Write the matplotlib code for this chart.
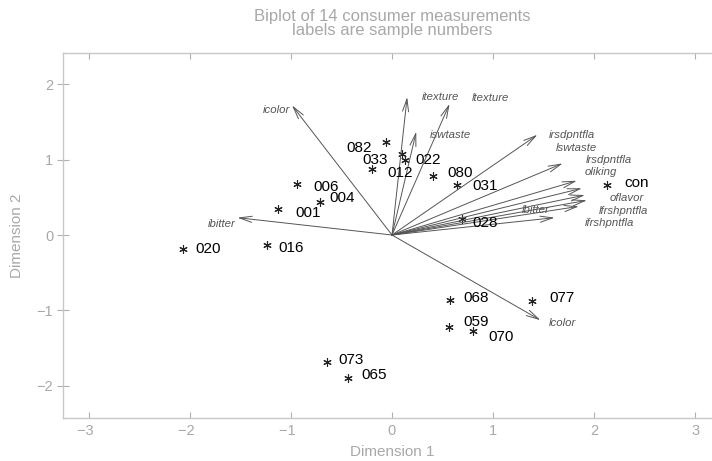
import matplotlib
matplotlib.use("Agg")
import matplotlib.pyplot as plt
import numpy as np

# sample scores (dimension 1, dimension 2)
samples = ["001", "004", "006", "012", "016", "020", "022", "028", "031", "033",
           "059", "065", "068", "070", "073", "077", "080", "082", "con"]
samp_x = [-1.13, -0.71, -0.94, -0.20, -1.24, -2.07, 0.13, 0.69, 0.64, 0.10,
          0.56, -0.44, 0.57, 0.80, -0.64, 1.39, 0.41, -0.06, 2.13]
samp_y = [0.34, 0.44, 0.68, 0.88, -0.13, -0.19, 0.99, 0.21, 0.66, 1.07,
          -1.22, -1.90, -0.86, -1.27, -1.68, -0.88, 0.78, 1.23, 0.66]

# loadings of the 14 consumer measurements
measures = ["icolor", "ibitter", "itexture", "ltexture", "iswtaste", "irsdpntfla",
            "lswtaste", "lrsdpntfla", "oliking", "oflavor", "lfrshpntfla",
            "ifrshpntfla", "lbitter", "lcolor"]
load_x = [-0.99, -1.53, 0.15, 0.57, 0.24, 1.44, 1.69, 1.83, 1.88, 1.91, 1.93, 1.85, 1.61, 1.47]
load_y = [1.72, 0.23, 1.83, 1.74, 1.37, 1.33, 0.95, 0.72, 0.62, 0.53, 0.46, 0.38, 0.23, -1.13]

xticks = [-3, -2, -1, 0, 1, 2, 3]
yticks = [-2, -1, 0, 1, 2]

# label placement (pixels from the star / arrow tip)
samp_off = {"001": (18, -4), "004": (9, 4), "006": (16, -3), "012": (16, -4),
            "016": (12, -3), "020": (12, 0), "022": (10, 0), "028": (11, -4),
            "031": (16, -1), "033": (-14, -6), "059": (15, 5), "065": (14, 3),
            "068": (14, 2), "070": (16, -6), "073": (11, 2), "077": (17, 3),
            "080": (14, 3), "082": (-14, -6), "con": (17, 2.5)}
load_off = {"icolor": (-2, -5), "ibitter": (-2, -6), "itexture": (15, 0),
            "ltexture": (22, 6), "iswtaste": (14, -3), "irsdpntfla": (11, 0),
            "lswtaste": (-7, 15), "lrsdpntfla": (9, 21), "oliking": (3, 16),
            "oflavor": (25, -3), "lfrshpntfla": (12, -11), "ifrshpntfla": (6, -17),
            "lbitter": (-33, 8), "lcolor": (8, -3)}

grey = "#a8a8a8"
plt.rcParams["font.family"] = ["Liberation Sans", "DejaVu Sans"]


def tick_text(v):
    # minus hangs to the left so the digit sits on the tick
    return "\u2212%d\u2007" % -v if v < 0 else "%d" % v


fig = plt.figure(figsize=(7.12, 4.61), dpi=100)
ax = fig.add_axes([63 / 712, 43 / 461, 658 / 712, 365 / 461])
ax.set_xlim(-3.257, 3.257)
ax.set_ylim(-2.427, 2.414)

for s in ax.spines.values():
    s.set_color("#c8c8c8")
    s.set_linewidth(1.0)

ax.set_xticks(xticks)
ax.set_xticklabels([tick_text(v) for v in xticks])
ax.set_yticks(yticks)
ax.set_yticklabels(["\u2212%d" % -v if v < 0 else "%d" % v for v in yticks])
ax.tick_params(axis="x", direction="in", length=4, width=0.8, color="#b0b0b0",
               labelcolor=grey, labelsize=10.5, pad=4, top=True)
ax.tick_params(axis="y", direction="inout", length=8, width=0.8, color="#b0b0b0",
               labelcolor=grey, labelsize=10.5, pad=3)

ax.set_xlabel("Dimension 1", color=grey, fontsize=11, labelpad=5)
ax.set_ylabel("Dimension 2", color=grey, fontsize=11, labelpad=9)
fig.text(392 / 712, 1 - 23.5 / 461,
         "Biplot of 14 consumer measurements\nlabels are sample numbers",
         ha="center", va="center", multialignment="center", linespacing=0.9,
         color=grey, fontsize=12)

# loading arrows
for name, lx, ly in zip(measures, load_x, load_y):
    ax.annotate("", xy=(lx, ly), xytext=(0, 0),
                arrowprops=dict(arrowstyle="->,head_length=0.9,head_width=0.22",
                                color="#555555", lw=0.7, shrinkA=0, shrinkB=0))
    dx, dy = load_off[name]
    ax.annotate(name, xy=(lx, ly), xytext=(dx, dy), textcoords="offset pixels",
                ha="right" if lx < 0 else "left", va="center",
                fontsize=8.2, style="italic", color="#555555")

# sample points
ax.plot(samp_x, samp_y, linestyle="none", marker=(6, 2, 0), markersize=6,
        markeredgewidth=0.8, color="#222222")
for name, sx, sy in zip(samples, samp_x, samp_y):
    dx, dy = samp_off[name]
    ax.annotate(name, xy=(sx, sy), xytext=(dx, dy), textcoords="offset pixels",
                ha="right" if dx < 0 else "left", va="center",
                fontsize=11, color="black")

fig.savefig("out.png", dpi=100)
